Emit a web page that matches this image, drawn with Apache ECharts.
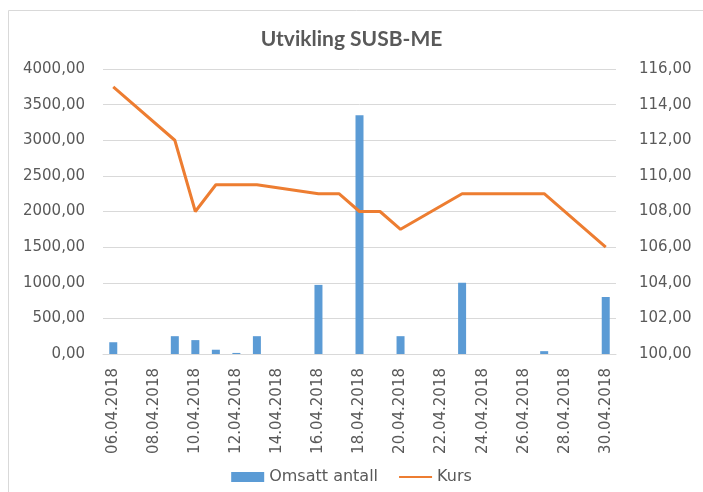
<!DOCTYPE html>
<html>
<head>
<meta charset="utf-8">
<script src="https://cdn.jsdelivr.net/npm/echarts@6/dist/echarts.min.js"></script>
<style>html,body{margin:0;padding:0;background:#fff}#c{width:703px;height:492px}</style>
</head>
<body>
<div id="c"></div>
<script>
var dates = ['06.04.2018','07.04.2018','08.04.2018','09.04.2018','10.04.2018','11.04.2018','12.04.2018','13.04.2018','14.04.2018','15.04.2018','16.04.2018','17.04.2018','18.04.2018','19.04.2018','20.04.2018','21.04.2018','22.04.2018','23.04.2018','24.04.2018','25.04.2018','26.04.2018','27.04.2018','28.04.2018','29.04.2018','30.04.2018'];
var omsattAntall = [165,null,null,250,195,60,15,250,null,null,970,0,3350,0,250,null,null,1000,0,0,0,40,null,null,800];
var kurs = [115,null,null,112,108,109.5,109.5,109.5,null,null,109,109,108,108,107,null,null,109,109,109,109,109,null,null,106];

var chart = echarts.init(document.getElementById('c'));
var txt = '#595959', grid = '#D9D9D9', font = 'DejaVu Sans';
function fmt(v){return v.toFixed(2).replace('.', ',');}
chart.setOption({
  animation: false,
  textStyle: {fontFamily: font},
  graphic: [{type: 'rect', shape: {x: 8.5, y: 10.5, width: 720, height: 520}, style: {fill: 'none', stroke: '#D9D9D9', lineWidth: 1}, silent: true, z: -1}],
  title: {text: 'Utvikling SUSB-ME', left: 'center', top: 24, textStyle: {fontFamily: 'Lato', fontWeight: 'bold', fontSize: 21, color: txt}},
  legend: {bottom: 2, left: 'center', itemGap: 20, itemWidth: 33, itemHeight: 10,
    textStyle: {color: txt, fontSize: 16, fontFamily: font},
    data: [{name: 'Omsatt antall', icon: 'rect'}, {name: 'Kurs', itemStyle: {opacity: 0}}]},
  grid: {left: 103, right: 87, top: 69, height: 285, containLabel: false},
  xAxis: {type: 'category', data: dates, boundaryGap: true,
    axisLine: {lineStyle: {color: grid}},
    axisTick: {interval: 1, length: 5, lineStyle: {color: grid}},
    axisLabel: {interval: 1, rotate: 90, color: txt, fontSize: 15, fontFamily: font, margin: 14}},
  yAxis: [
    {type: 'value', min: 0, max: 4000, interval: 500,
     axisLine: {show: false}, axisTick: {show: false},
     splitLine: {lineStyle: {color: grid}},
     axisLabel: {color: txt, fontSize: 15, fontFamily: font, margin: 18, formatter: fmt}},
    {type: 'value', min: 100, max: 116, interval: 2,
     axisLine: {show: false}, axisTick: {show: false}, splitLine: {show: false},
     axisLabel: {color: txt, fontSize: 15, fontFamily: font, margin: 23, formatter: fmt}}
  ],
  series: [
    {name: 'Omsatt antall', type: 'bar', data: omsattAntall, barWidth: 8, itemStyle: {color: '#5B9BD5'}, yAxisIndex: 0},
    {name: 'Kurs', type: 'line', data: kurs, yAxisIndex: 1, connectNulls: true, symbol: 'none',
     lineStyle: {color: '#ED7D31', width: 3}, itemStyle: {color: '#ED7D31'}}
  ]
});
</script>
</body>
</html>
